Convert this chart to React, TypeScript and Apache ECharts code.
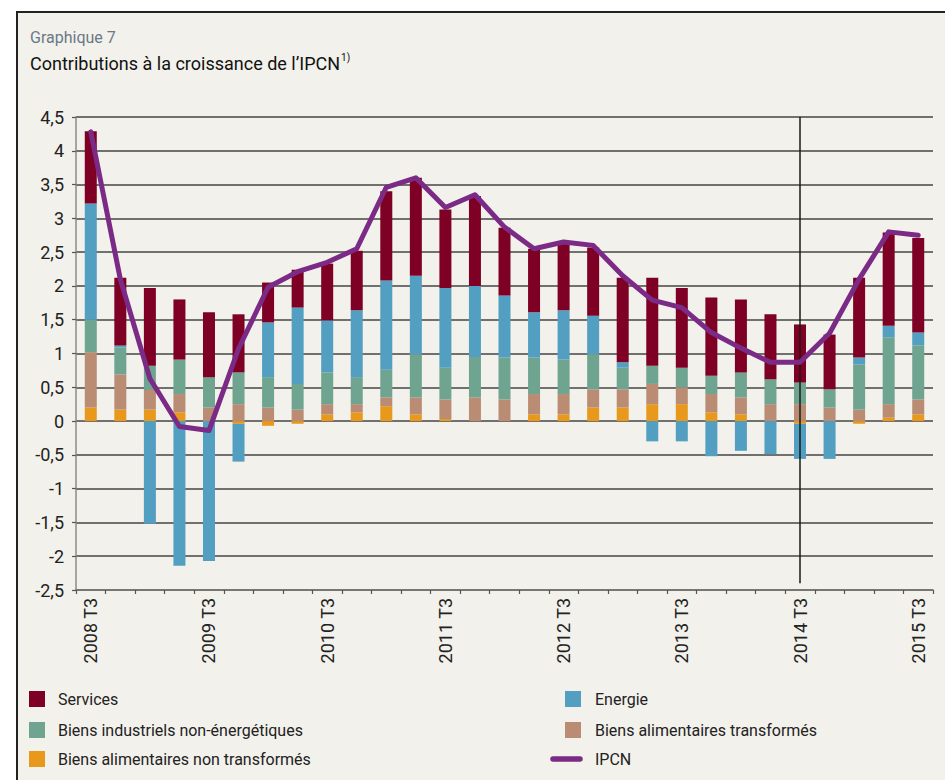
import React, { useEffect, useRef } from 'react';
import * as echarts from 'echarts';

const categories = [
  '2008 T3', '2008 T4', '2009 T1', '2009 T2', '2009 T3', '2009 T4', '2010 T1', '2010 T2',
  '2010 T3', '2010 T4', '2011 T1', '2011 T2', '2011 T3', '2011 T4', '2012 T1', '2012 T2',
  '2012 T3', '2012 T4', '2013 T1', '2013 T2', '2013 T3', '2013 T4', '2014 T1', '2014 T2',
  '2014 T3', '2014 T4', '2015 T1', '2015 T2', '2015 T3',
];

const services = [1.07, 1.0, 1.15, 0.89, 0.96, 0.86, 0.59, 0.56, 0.84, 0.88, 1.32, 1.45, 1.16, 1.33, 1.0, 0.94, 0.98, 1.01, 1.25, 1.3, 1.18, 1.16, 1.08, 0.96, 0.86, 0.81, 1.18, 1.38, 1.4];
const energie = [1.72, 0.03, -1.52, -2.14, -2.07, -0.56, 0.81, 1.13, 0.77, 0.99, 1.32, 1.16, 1.18, 1.05, 0.92, 0.67, 0.73, 0.57, 0.08, -0.3, -0.3, -0.52, -0.44, -0.49, -0.52, -0.56, 0.1, 0.17, 0.19];
const industriels = [0.48, 0.4, 0.36, 0.51, 0.45, 0.47, 0.45, 0.38, 0.47, 0.4, 0.41, 0.64, 0.47, 0.6, 0.62, 0.54, 0.51, 0.52, 0.32, 0.27, 0.29, 0.27, 0.37, 0.37, 0.32, 0.27, 0.67, 0.99, 0.8];
const transformes = [0.82, 0.52, 0.29, 0.27, 0.2, 0.25, 0.2, 0.17, 0.15, 0.12, 0.13, 0.25, 0.29, 0.35, 0.32, 0.3, 0.3, 0.27, 0.27, 0.3, 0.25, 0.27, 0.25, 0.25, 0.25, 0.2, 0.17, 0.2, 0.22];
const nonTransformes = [0.2, 0.17, 0.17, 0.13, 0, -0.04, -0.07, -0.04, 0.1, 0.13, 0.22, 0.1, 0.03, 0, 0, 0.1, 0.1, 0.2, 0.2, 0.25, 0.25, 0.13, 0.1, 0, -0.04, 0, -0.04, 0.05, 0.1];
const ipcn = [4.28, 2.1, 0.63, -0.08, -0.14, 1.07, 1.98, 2.21, 2.35, 2.55, 3.46, 3.6, 3.16, 3.35, 2.87, 2.55, 2.65, 2.6, 2.15, 1.79, 1.68, 1.31, 1.08, 0.87, 0.87, 1.3, 2.1, 2.8, 2.75];

const markerCategory = '2014 T3';

const NAMES = {
  services: 'Services',
  energie: 'Energie',
  industriels: 'Biens industriels non-énergétiques',
  transformes: 'Biens alimentaires transformés',
  nonTransformes: 'Biens alimentaires non transformés',
  ipcn: 'IPCN',
};

const COLORS = {
  services: '#7e0024',
  energie: '#529fc1',
  industriels: '#6fa490',
  transformes: '#b98c73',
  nonTransformes: '#e8991c',
  ipcn: '#7b2a86',
};

const FONT = 'Roboto, "Noto Sans", sans-serif';

export default function App() {
  const ref = useRef<HTMLDivElement>(null);

  useEffect(() => {
    if (!ref.current) return;
    const chart = echarts.init(ref.current, null, { renderer: 'svg' });

    const barSeries = (key: keyof typeof NAMES, data: number[]) => ({
      type: 'bar',
      name: NAMES[key],
      stack: 'contrib',
      data,
      barWidth: 12,
      itemStyle: { color: (COLORS as any)[key] },
      emphasis: { disabled: true },
      z: 2,
    });

    const legendLeft = [
      { key: 'services', y: 699 },
      { key: 'industriels', y: 730 },
      { key: 'nonTransformes', y: 759 },
    ];
    const legendRight = [
      { key: 'energie', y: 699 },
      { key: 'transformes', y: 730 },
    ];

    const textStyle = (t: string) => ({
      text: t,
      fill: '#222',
      font: `16px ${FONT}`,
      verticalAlign: 'middle',
    });

    const legendGraphics: any[] = [];
    legendLeft.forEach((it) => {
      legendGraphics.push({
        type: 'rect',
        shape: { x: 29, y: it.y - 8, width: 16, height: 16 },
        style: { fill: (COLORS as any)[it.key] },
      });
      legendGraphics.push({ type: 'text', x: 58, y: it.y, style: textStyle((NAMES as any)[it.key]) });
    });
    legendRight.forEach((it) => {
      legendGraphics.push({
        type: 'rect',
        shape: { x: 565, y: it.y - 8, width: 16, height: 16 },
        style: { fill: (COLORS as any)[it.key] },
      });
      legendGraphics.push({ type: 'text', x: 595, y: it.y, style: textStyle((NAMES as any)[it.key]) });
    });
    legendGraphics.push({
      type: 'line',
      shape: { x1: 553, y1: 759, x2: 580, y2: 759 },
      style: { stroke: COLORS.ipcn, lineWidth: 5.5, lineCap: 'round' },
    });
    legendGraphics.push({ type: 'text', x: 595, y: 759, style: textStyle(NAMES.ipcn) });

    chart.setOption({
      animation: false,
      backgroundColor: 'transparent',
      textStyle: { fontFamily: FONT },
      title: [
        {
          text: 'Graphique 7',
          left: 30,
          top: 29,
          padding: 0,
          textStyle: { fontSize: 16, fontWeight: 'normal', color: '#6b7887', fontFamily: FONT },
        },
        {
          text: "{a|Contributions à la croissance de l’IPCN}{b|1)}",
          left: 30,
          top: 52,
          padding: 0,
          textStyle: {
            fontWeight: 'normal',
            rich: {
              a: { fontSize: 18, color: '#111', fontFamily: FONT, fontWeight: 'normal', lineHeight: 22 },
              b: { fontSize: 10, color: '#111', fontFamily: FONT, fontWeight: 'normal', verticalAlign: 'top', padding: [0, 0, 0, 1] },
            },
          },
        },
      ],
      grid: { left: 76, right: 12, top: 117, bottom: 190, containLabel: false },
      xAxis: {
        type: 'category',
        data: categories,
        boundaryGap: true,
        axisLine: { onZero: false, lineStyle: { color: '#7a7a7a', width: 1.5 } },
        axisTick: { show: true, interval: 0, length: 4, lineStyle: { color: '#555', width: 1.2 } },
        axisLabel: {
          interval: 3,
          rotate: 90,
          margin: 8,
          fontSize: 18,
          color: '#222',
          fontFamily: FONT,
        },
        splitLine: { show: false },
      },
      yAxis: {
        type: 'value',
        min: -2.5,
        max: 4.5,
        interval: 0.5,
        axisLine: { show: true, lineStyle: { color: '#8a8a8a', width: 1.5 } },
        axisTick: { show: true, length: 4, lineStyle: { color: '#555', width: 1.2 } },
        axisLabel: {
          margin: 12,
          fontSize: 18,
          color: '#222',
          fontFamily: FONT,
          formatter: (v: number) => String(v).replace('.', ','),
        },
        splitLine: { show: true, lineStyle: { color: '#454545', width: 1.6 } },
      },
      series: [
        barSeries('nonTransformes', nonTransformes),
        barSeries('transformes', transformes),
        barSeries('industriels', industriels),
        barSeries('energie', energie),
        barSeries('services', services),
        {
          type: 'line',
          name: NAMES.ipcn,
          data: ipcn,
          symbol: 'none',
          showSymbol: false,
          z: 5,
          lineStyle: { color: COLORS.ipcn, width: 5, cap: 'round', join: 'round' },
          itemStyle: { color: COLORS.ipcn },
          emphasis: { disabled: true },
          markLine: {
            silent: true,
            symbol: 'none',
            label: { show: false },
            lineStyle: { color: '#1a1a1a', width: 1.5, type: 'solid' },
            data: [[{ coord: [markerCategory, 4.5] }, { coord: [markerCategory, -2.4] }]],
          },
        },
      ],
      graphic: legendGraphics,
    });

    return () => chart.dispose();
  }, []);

  return (
    <div style={{ position: 'fixed', left: 0, top: 0, width: 945, height: 780, background: '#fff', overflow: 'hidden' }}>
      <div
        style={{
          position: 'absolute',
          left: 16,
          top: 11,
          width: 960,
          height: 800,
          borderTop: '2px solid #222',
          borderLeft: '2px solid #222',
          background: '#f2f1eb',
        }}
      />
      <div ref={ref} style={{ position: 'absolute', left: 0, top: 0, width: 945, height: 780 }} />
    </div>
  );
}
